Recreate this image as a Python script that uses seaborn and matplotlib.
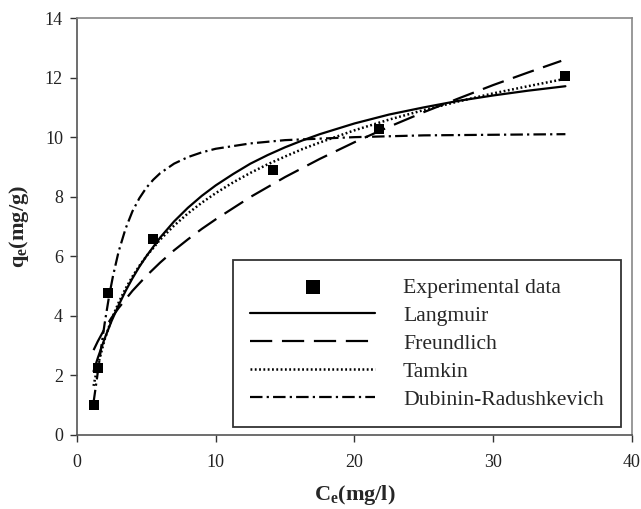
import numpy as np
import pandas as pd
import matplotlib
matplotlib.use("Agg")
import matplotlib.pyplot as plt
import seaborn as sns

# Experimental data
ce_exp = [1.2, 1.55, 2.25, 5.45, 14.15, 21.8, 35.15]
qe_exp = [1.0, 2.25, 4.77, 6.58, 8.89, 10.27, 12.05]

# Model curves
ce_fit = [1.2, 1.5, 2.0, 2.5, 3.0, 3.5, 4.0, 4.5, 5.0, 6.0, 7.0, 8.0, 9.0, 10.0,
          11.25, 12.5, 13.75, 15.0, 16.25, 17.5, 20.0, 22.5, 25.0, 27.5, 30.0,
          32.5, 35.2]
q_langmuir = [2.14, 2.58, 3.24, 3.83, 4.35, 4.83, 5.26, 5.65, 6.00, 6.63, 7.17,
              7.63, 8.03, 8.38, 8.76, 9.11, 9.40, 9.66, 9.89, 10.10, 10.46,
              10.76, 11.00, 11.22, 11.40, 11.56, 11.71]
q_tamkin = [1.65, 2.33, 3.21, 3.89, 4.44, 4.91, 5.32, 5.68, 6.00, 6.56, 7.03,
            7.44, 7.80, 8.12, 8.48, 8.80, 9.09, 9.35, 9.60, 9.82, 10.23,
            10.59, 10.91, 11.20, 11.47, 11.71, 11.96]
ce_freund = [1.2, 1.5, 2.0, 2.5, 3.0, 4.0, 5.0, 6.0, 7.0, 8.0, 9.0, 10.0, 12.5,
             15.0, 17.5, 20.0, 22.5, 25.0, 27.5, 30.0, 32.5, 34.9]
q_freundlich = [2.85, 3.14, 3.57, 3.94, 4.26, 4.84, 5.34, 5.79, 6.20, 6.57, 6.92,
                7.24, 7.99, 8.66, 9.27, 9.83, 10.35, 10.84, 11.30, 11.75, 12.17,
                12.56]
ce_dr = [1.2, 1.45, 1.7, 2.0, 2.3, 2.6, 3.0, 3.5, 4.0, 4.5, 5.0, 5.5, 6.0, 7.0,
         8.0, 9.0, 10.0, 12.5, 15.0, 20.0, 25.0, 30.0, 35.2]
q_dr = [1.10, 1.92, 2.78, 3.75, 4.61, 5.34, 6.15, 6.92, 7.51, 7.95, 8.30, 8.57,
        8.79, 9.11, 9.33, 9.49, 9.61, 9.79, 9.90, 10.00, 10.06, 10.08, 10.10]

labels = ["Experimental data", "Langmuir", "Freundlich", "Tamkin", "Dubinin-Radushkevich"]
x_ticks = [0, 10, 20, 30, 40]
y_ticks = [0, 2, 4, 6, 8, 10, 12, 14]

sns.set_style("white")
plt.rcParams["font.family"] = ["Liberation Serif", "DejaVu Serif"]
plt.rcParams["mathtext.fontset"] = "custom"
plt.rcParams["mathtext.rm"] = "Liberation Serif"
plt.rcParams["mathtext.bf"] = "Liberation Serif:bold"
plt.rcParams["mathtext.it"] = "Liberation Serif:italic"
plt.rcParams["lines.scale_dashes"] = False
plt.rcParams["lines.solid_joinstyle"] = "round"

fig = plt.figure(figsize=(6.41, 5.09), dpi=100)
ax = fig.add_axes([0.120, 0.1454, 0.866, 0.8192])

df_exp = pd.DataFrame({"Ce": ce_exp, "qe": qe_exp})
df_l = pd.DataFrame({"Ce": ce_fit, "qe": q_langmuir})
df_f = pd.DataFrame({"Ce": ce_freund, "qe": q_freundlich})
df_t = pd.DataFrame({"Ce": ce_fit, "qe": q_tamkin})
df_d = pd.DataFrame({"Ce": ce_dr, "qe": q_dr})

lw = 1.6
sns.lineplot(data=df_l, x="Ce", y="qe", ax=ax, color="black", lw=lw,
             label=labels[1], sort=False, zorder=3)
l2 = sns.lineplot(data=df_f, x="Ce", y="qe", ax=ax, color="black", lw=lw,
                  label=labels[2], sort=False, zorder=3).lines[-1]
l2.set_dashes((16, 7))
l3 = sns.lineplot(data=df_t, x="Ce", y="qe", ax=ax, color="black", lw=1.8,
                  label=labels[3], sort=False, zorder=3).lines[-1]
l3.set_dashes((1.3, 1.8))
l4 = sns.lineplot(data=df_d, x="Ce", y="qe", ax=ax, color="black", lw=lw,
                  label=labels[4], sort=False, zorder=3).lines[-1]
l4.set_dashes((9, 3, 1.6, 3))
sns.scatterplot(data=df_exp, x="Ce", y="qe", ax=ax, marker="s", s=48,
                color="black", edgecolor="black", linewidth=0,
                label=labels[0], zorder=4)

ax.set_xlim(0, 40)
ax.set_ylim(0, 14)
ax.set_xticks(x_ticks)
ax.set_yticks(y_ticks)
ax.tick_params(axis="both", which="both", direction="out", length=5, width=1,
               color="#333333", labelsize=13, left=True, bottom=True,
               labelcolor="#222222")
ax.tick_params(axis="x", pad=9)
ax.tick_params(axis="y", pad=5)
for side, sp in ax.spines.items():
    sp.set_color("#555555" if side in ("left", "bottom") else "#888888")
    sp.set_linewidth(1.2)

ax.set_xlabel(r"$\mathbf{C_e(mg/l)}$", fontsize=16, labelpad=8)
ax.set_ylabel(r"$\mathbf{q_e(mg/g)}$", fontsize=16, labelpad=10)

handles, labs = ax.get_legend_handles_labels()
order = [labs.index(l) for l in labels]
leg = ax.legend([handles[i] for i in order], [labs[i] for i in order],
                loc="lower left", bbox_to_anchor=(0.281, 0.019),
                frameon=True, fancybox=False, edgecolor="black",
                fontsize=15.6, handlelength=5.75, handletextpad=1.3,
                borderpad=0.8, labelspacing=0.36, markerscale=1.45,
                borderaxespad=0)
leg.get_frame().set_linewidth(1.3)

fig.savefig("out.png", dpi=100)
